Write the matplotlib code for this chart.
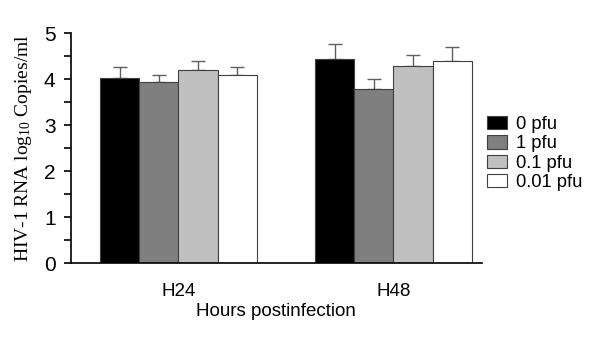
import numpy as np
import matplotlib
matplotlib.use("Agg")
import matplotlib.pyplot as plt
from matplotlib.ticker import MultipleLocator

plt.rcParams["mathtext.fontset"] = "custom"
plt.rcParams["mathtext.rm"] = "Liberation Serif"
plt.rcParams["mathtext.it"] = "Liberation Serif:italic"

groups = ["H24", "H48"]
doses = ["0 pfu", "1 pfu", "0.1 pfu", "0.01 pfu"]
colors = ["#000000", "#7f7f7f", "#c0c0c0", "#ffffff"]

# mean log10 copies/ml, rows = dose, cols = hour
means = [
    [4.03, 4.45],
    [3.95, 3.80],
    [4.20, 4.30],
    [4.09, 4.39],
]
errs = [
    [0.24, 0.33],
    [0.15, 0.20],
    [0.19, 0.24],
    [0.18, 0.31],
]

fig = plt.figure(figsize=(5.9, 3.48), dpi=100)
ax = fig.add_axes([0.120, 0.243, 0.697, 0.661])

x = np.arange(len(groups))
w = 0.1816
for i in range(len(doses)):
    pos = x + (i - 1.5) * w
    ax.bar(pos, means[i], w, color=colors[i], edgecolor="#404040",
           linewidth=0.8, label=doses[i], zorder=2)
    ax.errorbar(pos, means[i], yerr=[np.zeros(len(groups)), errs[i]],
                fmt="none", ecolor="#606060", elinewidth=1.0, capsize=5,
                capthick=1.0, zorder=1)

ax.set_xlim(-0.501, 1.412)
ax.set_ylim(0, 5)
ax.set_xticks(x)
ax.set_xticklabels(groups, fontname="Liberation Sans", fontsize=13.5)
ax.tick_params(axis="x", length=0, pad=14)
ax.yaxis.set_major_locator(MultipleLocator(1))
ax.yaxis.set_minor_locator(MultipleLocator(0.5))
ax.tick_params(axis="y", which="both", direction="out", length=5, width=1.2,
               pad=6)
for lab in ax.get_yticklabels():
    lab.set_fontname("Liberation Sans")
    lab.set_fontsize(15)

for s in ["top", "right"]:
    ax.spines[s].set_visible(False)
ax.spines["left"].set_linewidth(1.2)
ax.spines["bottom"].set_linewidth(1.2)

ax.set_xlabel("Hours postinfection", fontname="Liberation Sans", fontsize=13.5,
              labelpad=2)
ax.set_ylabel("HIV-1 RNA log$_{10}$ Copies/ml", fontname="Liberation Serif",
              fontsize=14, labelpad=7)

ax.legend(loc="upper left", bbox_to_anchor=(487 / 590, 1 - 116 / 348),
          bbox_transform=fig.transFigure, frameon=False,
          prop={"family": "Liberation Sans", "size": 13.2}, handlelength=1.09,
          handleheight=0.72, labelspacing=0.13, handletextpad=0.47,
          borderaxespad=0, borderpad=0)

fig.savefig("out.png", dpi=100)
